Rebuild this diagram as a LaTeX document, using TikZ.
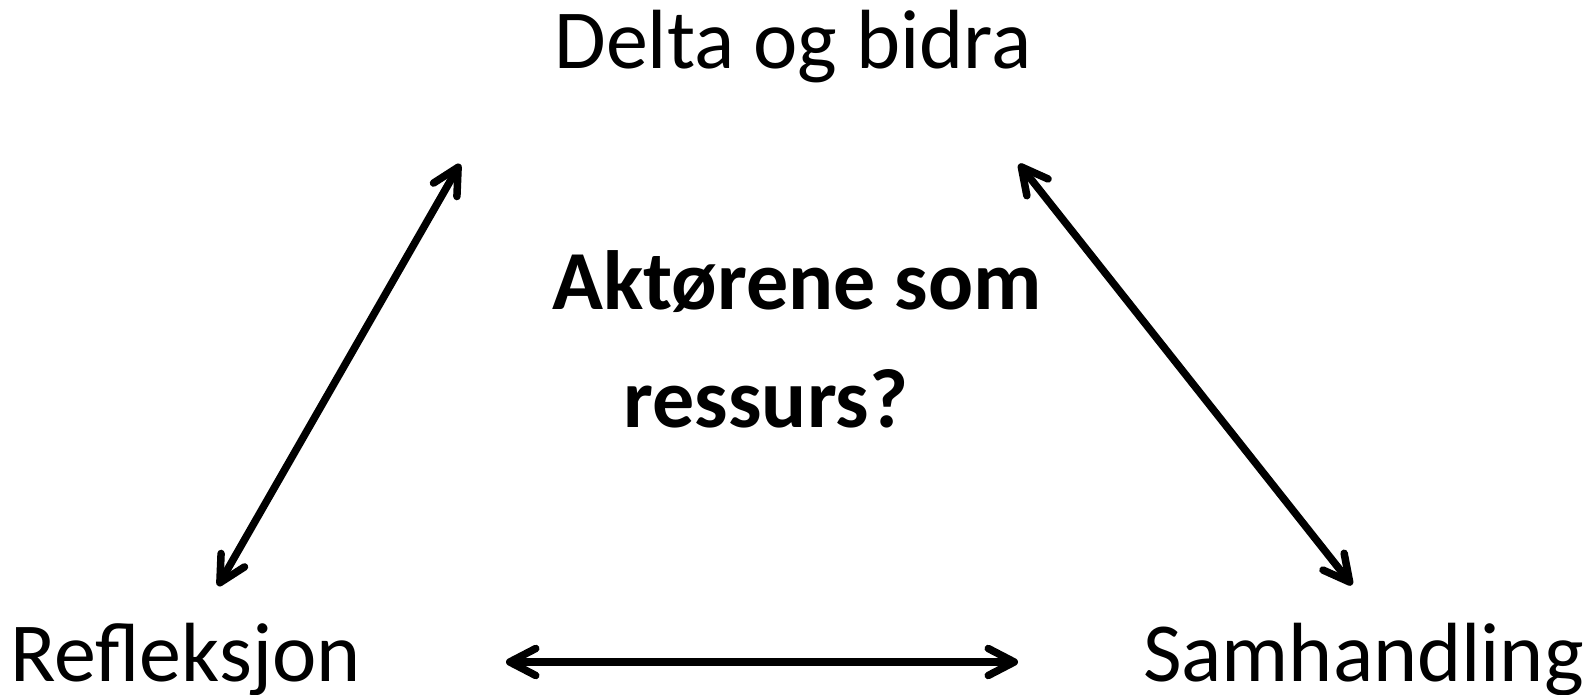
\documentclass[tikz,border=0pt]{standalone}
\usepackage{fontspec}
\setmainfont{Carlito}
\usetikzlibrary{arrows.meta}
\begin{document}
\begin{tikzpicture}[x=1pt,y=1pt]

    \tikzset{
      corner/.style={
        inner sep=0pt,
        font=\fontsize{84}{100}\selectfont,
      },
      centre/.style={
        inner sep=0pt,
        font=\fontsize{84}{100}\selectfont\bfseries,
      },
      link/.style={
        line width=7.5pt,
        {Straight Barb[length=26pt,width=27pt,round]}-{Straight Barb[length=26pt,width=27pt,round]},
      },
    }
    \useasboundingbox (0,0) rectangle (1596,694);
	\node[corner, anchor=base] (delta) at (793,625) {Delta og bidra};
	\node[corner, anchor=base west] (refl) at (10,13) {Refleksjon};
	\node[corner, anchor=base east] (samh) at (1584,13) {Samhandling};
	\node[centre, anchor=base] (aktor) at (797,384) {Aktørene som};
	\node[centre, anchor=base] (ress) at (766,266) {ressurs?};
	\coordinate (refl-up) at (218,108);
	\coordinate (delta-left) at (460,530);
	\coordinate (delta-right) at (1019,530);
	\coordinate (samh-up) at (1352,109);
	\coordinate (refl-right) at (506,32);
	\coordinate (samh-left) at (1018,32);
	\draw[link] (refl-up)--(delta-left);
	\draw[link] (delta-right)--(samh-up);
	\draw[link] (refl-right)--(samh-left);

\end{tikzpicture}
\end{document}
